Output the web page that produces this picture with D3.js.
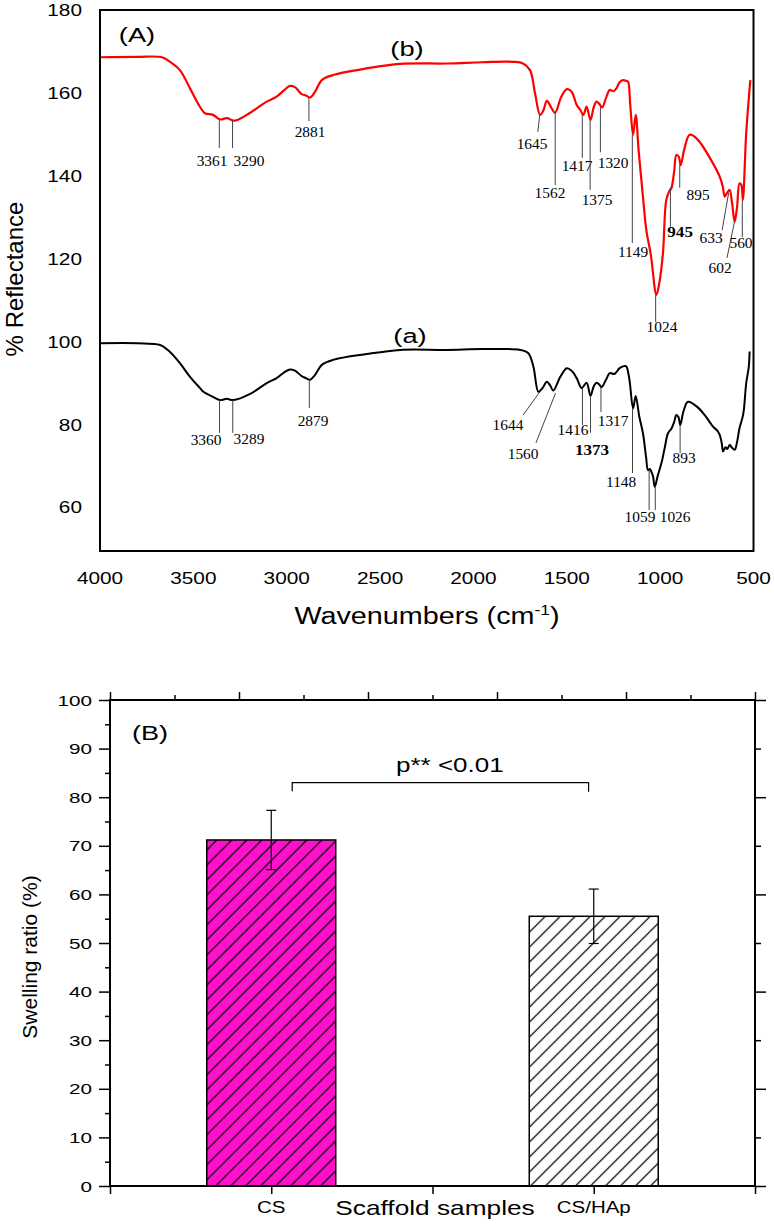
<!DOCTYPE html>
<html><head><meta charset="utf-8">
<script src="https://cdn.jsdelivr.net/npm/d3@7"></script>
<style>body{margin:0;background:#fff}svg{display:block}</style>
</head><body><svg id="c" width="774" height="1224"></svg>
<script>
// ---------- Panel A data: FTIR spectra [wavenumber, % reflectance] ----------
const redSpectrum = [[4000,168.6],[3800,168.7],[3668,168.6],[3625,167.5],[3572,165.5],[3518,161.1],[3464,156.6],[3438,155.1],[3395,154.7],[3357,153.6],[3321,153.9],[3277,153.3],[3214,154.7],[3134,157.1],[3107,157.9],[3054,159.1],[3010,160.8],[2982,161.7],[2956,161.4],[2920,159.7],[2897,159.4],[2875,158.9],[2848,160.3],[2812,163.1],[2752,164.3],[2572,165.9],[2393,167.0],[2143,167.1],[1950,167.4],[1787,167.5],[1734,167.1],[1697,165.5],[1670,159.9],[1643,154.7],[1625,155.8],[1607,158.1],[1585,156.6],[1563,155.2],[1530,159],[1500,160.9],[1474,160.3],[1447,157.1],[1429,156.0],[1411,154.7],[1394,156.7],[1373,153.5],[1356,156.5],[1341,157.9],[1325,157.3],[1310,156.5],[1290,158.8],[1270,160.7],[1250,160.4],[1234,161.1],[1217,162.6],[1199,163.1],[1181,162.9],[1172,162.7],[1160,157],[1145,149.9],[1131,154.7],[1115,146],[1092,135.0],[1074,126.9],[1050,121],[1020,111.3],[1005,114],[985,121.3],[967,134.2],[950,136.4],[940,137.0],[925,141],[913,145.0],[900,144.6],[890,142.6],[870,146.5],[842,149.9],[800,148.8],[717,143.0],[681,139.8],[665,137.5],[654,135.0],[640,136.0],[628,136.6],[615,133.5],[601,128.9],[588,132.5],[575,138.2],[565,137.8],[557,134.2],[539,150.3],[517,163.1]];
const blackSpectrum = [[4000,99.6],[3800,99.6],[3678,99.2],[3625,97.5],[3572,94.8],[3518,91.5],[3464,88.8],[3446,87.9],[3395,86.7],[3357,85.9],[3321,86.2],[3286,85.9],[3196,87.4],[3107,90.0],[3054,91.2],[3010,92.7],[2982,93.3],[2956,93.0],[2920,91.7],[2897,91.2],[2875,90.8],[2848,92.0],[2812,94.4],[2752,95.6],[2572,97.0],[2393,98.0],[2143,98.0],[1950,98.2],[1749,98.0],[1706,97.2],[1679,94.0],[1652,87.9],[1630,88.8],[1607,90.3],[1590,89.5],[1572,88.2],[1535,91.5],[1500,93.6],[1474,93.0],[1447,91.2],[1420,88.8],[1394,90.1],[1373,86.9],[1356,89.2],[1341,90.1],[1325,89.6],[1314,89.0],[1290,90.8],[1270,92.4],[1245,92.2],[1217,93.6],[1190,94.1],[1181,94.0],[1165,91],[1145,83.9],[1131,86.9],[1112,82],[1092,77.9],[1075,72],[1065,69.0],[1055,69.3],[1047,68.6],[1038,67.5],[1029,65.0],[1012,67.8],[993,70.7],[975,74.5],[958,77.9],[940,79.0],[925,80.6],[913,82.3],[902,81.8],[892,79.9],[875,83.2],[851,85.5],[800,84.2],[760,82.2],[717,79.5],[695,78.6],[681,77.5],[670,75.5],[663,73.5],[650,74.5],[640,74.1],[628,75.1],[615,74.4],[601,73.9],[588,75.8],[575,79.1],[555,82.5],[539,90.0],[525,94],[521,97.6]];
const xTicksA = [4000,3500,3000,2500,2000,1500,1000,500];
const yTicksA = [60,80,100,120,140,160,180];
// peak annotations: text, line top (w,v0) -> line bottom (w1,v1), label (lw,lv)
const redPeaks = [
 {t:"3361",w:3361,v0:153.5,w1:3361,v1:146.7,lw:3400,lv:142.4},
 {t:"3290",w:3290,v0:153.5,w1:3290,v1:146.7,lw:3202,lv:142.4},
 {t:"2881",w:2881,v0:159.0,w1:2881,v1:153.2,lw:2875,lv:149.4},
 {t:"1645",w:1645,v0:154.7,w1:1655,v1:150.6,lw:1686,lv:146.5},
 {t:"1562",w:1562,v0:155.2,w1:1562,v1:137.8,lw:1590,lv:134.7},
 {t:"1417",w:1417,v0:154.7,w1:1417,v1:144.3,lw:1445,lv:141.2},
 {t:"1375",w:1375,v0:153.5,w1:1375,v1:136.6,lw:1338,lv:133.0},
 {t:"1320",w:1320,v0:156.6,w1:1320,v1:145.7,lw:1252,lv:141.9},
 {t:"1149",w:1149,v0:149.9,w1:1149,v1:123.8,lw:1145,lv:120.4},
 {t:"1024",w:1024,v0:111.3,w1:1024,v1:104.7,lw:990,lv:102.3},
 {t:"945",w:945,v0:137.1,w1:945,v1:127.7,lw:893,lv:125.2,b:true},
 {t:"895",w:895,v0:142.6,w1:895,v1:137.1,lw:797,lv:134.2},
 {t:"633",w:633,v0:135.9,w1:668,v1:126.9,lw:727,lv:123.8},
 {t:"602",w:602,v0:128.9,w1:642,v1:120.2,lw:679,lv:116.6},
 {t:"560",w:560,v0:134.2,w1:560,v1:125.2,lw:567,lv:122.6}
];
const blackPeaks = [
 {t:"3360",w:3360,v0:85.9,w1:3360,v1:78.0,lw:3432,lv:75.1},
 {t:"3289",w:3289,v0:85.9,w1:3289,v1:78.0,lw:3202,lv:75.3},
 {t:"2879",w:2879,v0:90.8,w1:2879,v1:84.0,lw:2859,lv:79.7},
 {t:"1644",w:1644,v0:87.9,w1:1734,v1:82.3,lw:1815,lv:78.7},
 {t:"1560",w:1560,v0:87.6,w1:1665,v1:75.6,lw:1734,lv:71.7},
 {t:"1416",w:1416,v0:88.8,w1:1416,v1:79.9,lw:1467,lv:77.5},
 {t:"1373",w:1373,v0:86.9,w1:1373,v1:78.0,lw:1365,lv:72.7,b:true},
 {t:"1317",w:1317,v0:89.1,w1:1317,v1:83.0,lw:1252,lv:79.7},
 {t:"1148",w:1148,v0:84.0,w1:1148,v1:68.3,lw:1209,lv:65.0},
 {t:"1059",w:1059,v0:69.0,w1:1059,v1:59.4,lw:1108,lv:56.5},
 {t:"1026",w:1026,v0:65.0,w1:1026,v1:59.4,lw:920,lv:56.5},
 {t:"893",w:893,v0:79.9,w1:893,v1:73.1,lw:872,lv:70.7}
];
// ---------- Panel B data ----------
const samples = ["CS","CS/HAp"];
const swelling = [71.2, 55.5];
const swellingErr = [6.1, 5.6];
const barFills = ["url(#hatchPink)","url(#hatchWhite)"];
const yTicksB = [0,10,20,30,40,50,60,70,80,90,100];

const svg = d3.select("#c");
const SANS = "'Liberation Sans', Arial, sans-serif";
const SERIF = "'Liberation Serif', 'Times New Roman', serif";
function stext(g, x, y, str, size, anchor, sx, family, weight){
  return g.append("text").attr("transform",`translate(${x},${y}) scale(${sx},1)`)
    .attr("text-anchor",anchor).attr("font-size",size).attr("font-family",family||SANS)
    .attr("font-weight",weight||"normal").attr("fill","#000").text(str);
}

// ================= Panel A =================
const xA = d3.scaleLinear().domain([4000,500]).range([100,753.5]);
const yA = d3.scaleLinear().domain([49.5,180]).range([551,10]);
const gA = svg.append("g");
const line = d3.line().x(d=>xA(d[0])).y(d=>yA(d[1])).curve(d3.curveCatmullRom.alpha(0.5));
gA.append("path").datum(blackSpectrum).attr("d",line).attr("fill","none").attr("stroke","#000").attr("stroke-width",2);
gA.append("path").datum(redSpectrum).attr("d",line).attr("fill","none").attr("stroke","#ff0000").attr("stroke-width",2.2);
gA.append("rect").attr("x",xA(4000)).attr("y",yA(180)).attr("width",xA(500)-xA(4000)).attr("height",yA(49.5)-yA(180))
  .attr("fill","none").attr("stroke","#000").attr("stroke-width",2);
xTicksA.forEach(t=>stext(gA,xA(t),584,String(t),16,"middle",1.3));
yTicksA.forEach(t=>stext(gA,82,yA(t)+6,String(t),16,"end",1.3));
// axis titles
const xt = gA.append("text").attr("transform","translate(427,624) scale(1.25,1)").attr("text-anchor","middle")
  .attr("font-family",SANS).attr("font-size",23);
xt.append("tspan").text("Wavenumbers (cm");
xt.append("tspan").attr("font-size",14).attr("dy",-9).text("-1");
xt.append("tspan").attr("dy",9).text(")");
gA.append("text").attr("transform","translate(23,279) rotate(-90)").attr("text-anchor","middle")
  .attr("font-family",SANS).attr("font-size",24).text("% Reflectance");
stext(gA,137,42,"(A)",21,"middle",1.3);
stext(gA,407,56,"(b)",21,"middle",1.3);
stext(gA,410,343,"(a)",21,"middle",1.3);
function peaks(list){
  list.forEach(p=>{
    gA.append("line").attr("x1",xA(p.w)).attr("y1",yA(p.v0)).attr("x2",xA(p.w1)).attr("y2",yA(p.v1))
      .attr("stroke","#444").attr("stroke-width",1);
    stext(gA,xA(p.lw),yA(p.lv),p.t,p.b?15.5:14,"middle",1.1,SERIF,p.b?"bold":"normal");
  });
}
peaks(redPeaks); peaks(blackPeaks);

// ================= Panel B =================
const xB = d3.scaleLinear().domain([0.5,2.5]).range([110,755]);
const yB = d3.scaleLinear().domain([0,100]).range([1186,700]);
const gB = svg.append("g");
const defs = svg.append("defs");
[["hatchPink","#ff10cc"],["hatchWhite","#ffffff"]].forEach(([id,c])=>{
  const p = defs.append("pattern").attr("id",id).attr("patternUnits","userSpaceOnUse")
    .attr("width",10.6).attr("height",10.6).attr("patternTransform","rotate(45)");
  p.append("rect").attr("width",10.6).attr("height",10.6).attr("fill",c);
  p.append("line").attr("x1",5.3).attr("y1",-1).attr("x2",5.3).attr("y2",11.6).attr("stroke","#000").attr("stroke-width",1.3);
});
const barW = 0.4;
samples.forEach((s,i)=>{
  const cx = i+1;
  gB.append("rect").attr("x",xB(cx-barW/2)).attr("y",yB(swelling[i]))
    .attr("width",xB(cx+barW/2)-xB(cx-barW/2)).attr("height",yB(0)-yB(swelling[i]))
    .attr("fill",barFills[i]).attr("stroke","#000").attr("stroke-width",1.5);
  const x = xB(cx);
  gB.append("line").attr("x1",x).attr("x2",x).attr("y1",yB(swelling[i]+swellingErr[i])).attr("y2",yB(swelling[i]-swellingErr[i])).attr("stroke","#000").attr("stroke-width",1.2);
  [swelling[i]+swellingErr[i], swelling[i]-swellingErr[i]].forEach(v=>
    gB.append("line").attr("x1",x-5).attr("x2",x+5).attr("y1",yB(v)).attr("y2",yB(v)).attr("stroke","#000").attr("stroke-width",1.2));
  stext(gB,x,1213,s,16,"middle",1.28);
});
// axes ticks
function ticks(axis, vals, size, tx, ty){
  const g = gB.append("g").attr("transform",`translate(${tx},${ty})`).call(axis.tickValues(vals).tickSize(size).tickFormat(""));
  g.select(".domain").remove();
  g.selectAll("line").attr("stroke","#000").attr("stroke-width",1.5);
}
ticks(d3.axisLeft(yB), yTicksB, 11, xB(0.5), 0);
ticks(d3.axisLeft(yB), [5,15,25,35,45,55,65,75,85,95], 5, xB(0.5), 0);
ticks(d3.axisLeft(yB), [0,20,40,60,80,100], -11, xB(2.5), 0);
ticks(d3.axisLeft(yB), [10,30,50,70,90], -6, xB(2.5), 0);
ticks(d3.axisBottom(xB), [0.5,0.9,1.3,1.7,2.1,2.5], -8, 0, yB(100));
ticks(d3.axisBottom(xB), [0.7,1.1,1.5,1.9,2.3], -5, 0, yB(100));
ticks(d3.axisBottom(xB), [0.5,1,1.5,2,2.5], 8, 0, yB(0));
gB.append("rect").attr("x",xB(0.5)).attr("y",yB(100)).attr("width",xB(2.5)-xB(0.5)).attr("height",yB(0)-yB(100))
  .attr("fill","none").attr("stroke","#000").attr("stroke-width",2);
yTicksB.forEach(t=>stext(gB,92,yB(t)+5.5,String(t),15,"end",1.38));
stext(gB,435,1215,"Scaffold samples",21,"middle",1.25);
gB.append("text").attr("transform","translate(37,957) rotate(-90)").attr("text-anchor","middle")
  .attr("font-family",SANS).attr("font-size",21).text("Swelling ratio (%)");
stext(gB,150,740,"(B)",21,"middle",1.29);
// significance bracket
const brY = yB(83);
gB.append("path").attr("d",`M${xB(1.065)},${yB(81.2)} V${brY} H${xB(1.984)} V${yB(81.1)}`)
  .attr("fill","none").attr("stroke","#000").attr("stroke-width",1.2);
stext(gB,396,772,"p** <0.01",20,"start",1.3);
</script></body></html>
